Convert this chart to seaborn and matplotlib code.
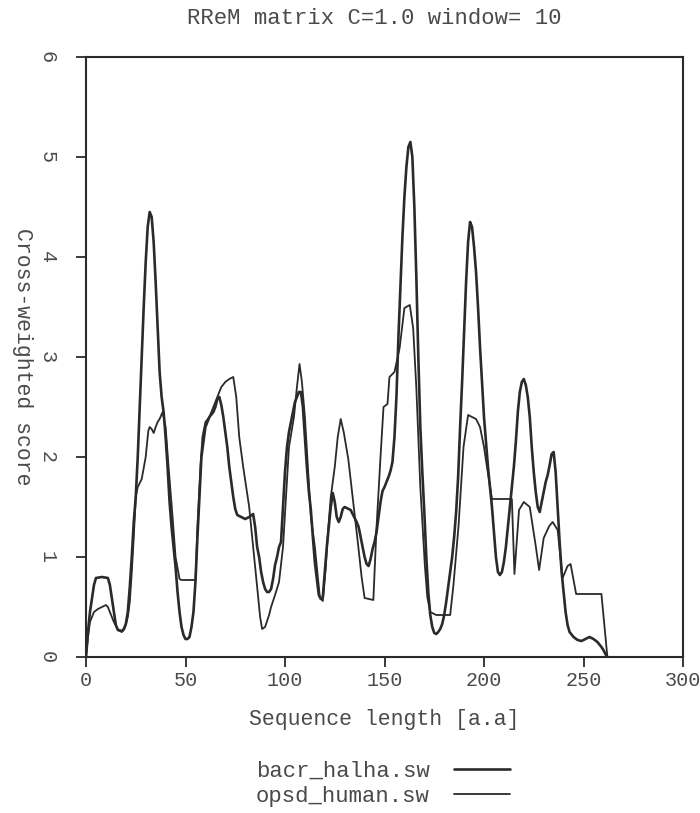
import numpy as np
import pandas as pd
import matplotlib
matplotlib.use("Agg")
import matplotlib.pyplot as plt
import seaborn as sns

# -------- data --------
bacr_x = [0, 1, 2, 4, 5, 8, 11, 12, 14, 15, 16, 18, 19, 20, 21, 22, 23, 24, 25, 26,
          27, 28, 29, 30, 31, 32, 33, 34, 35, 36, 37, 38, 39, 40, 41, 42, 43, 44, 45, 46,
          47, 48, 49, 50, 51, 52, 53, 54, 55, 56, 57, 58, 59, 60, 62, 64, 65, 66, 67, 68,
          69, 70, 71, 72, 73, 74, 75, 76, 78, 80, 82, 84, 85, 86, 87, 88, 89, 90, 91, 92,
          93, 94, 95, 96, 97, 98, 99, 100, 101, 102, 103, 104, 105, 106, 107, 108, 109, 110, 111, 112,
          113, 114, 115, 116, 117, 118, 119, 120, 121, 122, 123, 124, 125, 126, 127, 128, 129, 130, 131, 132,
          133, 134, 135, 136, 137, 138, 139, 140, 141, 142, 143, 144, 145, 146, 147, 148, 149, 150, 151, 152,
          153, 154, 155, 156, 157, 158, 159, 160, 161, 162, 163, 164, 165, 166, 167, 168, 169, 170, 171, 172,
          173, 174, 175, 176, 177, 178, 179, 180, 181, 182, 183, 184, 185, 186, 187, 188, 189, 190, 191, 192,
          193, 194, 195, 196, 197, 198, 199, 200, 201, 202, 203, 204, 205, 206, 207, 208, 209, 210, 211, 212,
          213, 214, 215, 216, 217, 218, 219, 220, 221, 222, 223, 224, 225, 226, 227, 228, 229, 230, 231, 232,
          233, 234, 235, 236, 237, 238, 239, 240, 241, 242, 243, 245, 247, 249, 251, 253, 255, 257, 259, 260,
          261, 262]
bacr_y = [0.0, 0.25, 0.45, 0.72, 0.79, 0.8, 0.79, 0.72, 0.45, 0.32, 0.27, 0.26, 0.28, 0.33, 0.45, 0.7, 1.0, 1.35, 1.6, 2.0,
          2.5, 3.0, 3.5, 3.95, 4.3, 4.45, 4.4, 4.15, 3.75, 3.3, 2.85, 2.6, 2.45, 2.2, 1.9, 1.55, 1.3, 1.1, 0.9, 0.65,
          0.45, 0.3, 0.22, 0.18, 0.18, 0.2, 0.3, 0.45, 0.75, 1.2, 1.6, 2.0, 2.15, 2.3, 2.4, 2.45, 2.5, 2.58, 2.6, 2.52,
          2.4, 2.25, 2.1, 1.9, 1.75, 1.6, 1.48, 1.42, 1.4, 1.38, 1.4, 1.43, 1.3, 1.1, 1.0, 0.85, 0.75, 0.68, 0.65, 0.65,
          0.68, 0.78, 0.92, 1.0, 1.1, 1.15, 1.5, 1.85, 2.1, 2.25, 2.35, 2.45, 2.55, 2.6, 2.65, 2.65, 2.5, 2.2, 1.9, 1.65,
          1.47, 1.2, 0.95, 0.78, 0.62, 0.58, 0.6, 0.85, 1.1, 1.3, 1.5, 1.64, 1.55, 1.4, 1.35, 1.4, 1.48, 1.5, 1.49, 1.48,
          1.47, 1.43, 1.39, 1.35, 1.3, 1.2, 1.1, 1.0, 0.93, 0.91, 0.98, 1.08, 1.15, 1.25, 1.4, 1.55, 1.66, 1.7, 1.75, 1.8,
          1.86, 1.95, 2.2, 2.6, 3.2, 3.7, 4.2, 4.6, 4.9, 5.1, 5.15, 5.0, 4.5, 3.8, 3.0, 2.3, 1.85, 1.45, 1.0, 0.65,
          0.42, 0.3, 0.24, 0.23, 0.25, 0.28, 0.33, 0.42, 0.55, 0.7, 0.85, 1.0, 1.2, 1.45, 1.8, 2.3, 2.75, 3.25, 3.75, 4.15,
          4.35, 4.3, 4.1, 3.85, 3.5, 3.1, 2.75, 2.4, 2.15, 1.9, 1.7, 1.5, 1.25, 1.0, 0.85, 0.82, 0.85, 0.95, 1.1, 1.3,
          1.5, 1.7, 1.9, 2.15, 2.45, 2.65, 2.75, 2.78, 2.72, 2.6, 2.4, 2.1, 1.85, 1.65, 1.5, 1.45, 1.55, 1.65, 1.75, 1.82,
          1.92, 2.03, 2.05, 1.85, 1.5, 1.15, 0.85, 0.65, 0.45, 0.32, 0.25, 0.2, 0.17, 0.16, 0.18, 0.2, 0.18, 0.15, 0.1, 0.07,
          0.03, 0.0]

opsd_x = [0, 1, 2, 4, 6, 8, 10, 11, 12, 14, 16, 17, 18, 19, 20, 21, 22, 23, 24, 25,
          26, 28, 30, 31.3, 32, 33, 34, 35, 36, 37, 38.5, 40, 41.5, 43.5, 45, 47, 48, 55, 56, 57.5,
          58.5, 60, 62, 64, 66, 68, 70, 72, 74, 75.5, 77, 79, 82, 84, 86, 87.5, 88.5, 90, 92, 93,
          95, 97, 99, 100.5, 102, 104.5, 106, 107.3, 108.5, 110, 111.5, 113, 115, 116.5, 117.5, 119, 120.5, 121.6, 123, 125,
          126.5, 128, 129.5, 131.8, 134, 136.8, 138.5, 140, 144.4, 146, 148, 149.5, 151.5, 152.5, 155, 157.6, 160, 162.7, 164.4, 166,
          168, 170.3, 171.5, 173, 176, 183, 184.6, 187.2, 189.7, 192, 194, 196, 198, 200, 201.5, 204, 214, 215.3, 217.6, 220,
          223, 226, 227.7, 230, 232.8, 234.5, 237, 239.5, 242, 243.5, 246.3, 259, 262]
opsd_y = [0.0, 0.2, 0.35, 0.45, 0.48, 0.5, 0.52, 0.5, 0.45, 0.35, 0.28, 0.26, 0.25, 0.27, 0.32, 0.4, 0.55, 0.85, 1.2, 1.6,
          1.7, 1.78, 2.0, 2.26, 2.3, 2.28, 2.24, 2.3, 2.35, 2.38, 2.45, 2.3, 1.9, 1.4, 1.0, 0.78, 0.77, 0.77, 1.3, 1.9,
          2.2, 2.35, 2.4, 2.5, 2.6, 2.7, 2.75, 2.78, 2.8, 2.6, 2.2, 1.9, 1.5, 1.1, 0.7, 0.4, 0.28, 0.3, 0.42, 0.5,
          0.62, 0.75, 1.1, 1.6, 2.1, 2.4, 2.7, 2.93, 2.75, 2.4, 1.9, 1.4, 1.1, 0.8, 0.6, 0.56, 0.9, 1.25, 1.6, 1.9,
          2.2, 2.38, 2.25, 1.98, 1.6, 1.11, 0.8, 0.59, 0.57, 1.3, 2.0, 2.5, 2.53, 2.8, 2.85, 3.09, 3.49, 3.52, 3.29, 2.69,
          1.7, 0.91, 0.6, 0.45, 0.42, 0.42, 0.71, 1.31, 2.1, 2.42, 2.4, 2.38, 2.3, 2.1, 1.9, 1.58, 1.58, 0.83, 1.47, 1.55,
          1.5, 1.11, 0.87, 1.19, 1.31, 1.35, 1.27, 0.79, 0.91, 0.93, 0.63, 0.63, 0.0]

labels = ["bacr_halha.sw", "opsd_human.sw"]
x_ticks = [0, 50, 100, 150, 200, 250, 300]
y_ticks = [0, 1, 2, 3, 4, 5, 6]

df = pd.concat([
    pd.DataFrame({"pos": bacr_x, "score": bacr_y, "seq": labels[0]}),
    pd.DataFrame({"pos": opsd_x, "score": opsd_y, "seq": labels[1]}),
])

# -------- style --------
sns.set_style("ticks")
plt.rcParams["font.family"] = ["Liberation Mono", "DejaVu Sans Mono"]
ink = "#2a2a2a"
txt = "#4a4a4a"

fig = plt.figure(figsize=(7.0, 8.13), dpi=100)
ax = fig.add_axes([86 / 700, 1 - 657 / 813, 597 / 700, 600 / 813])

sns.lineplot(data=df, x="pos", y="score", hue="seq", palette={labels[0]: ink, labels[1]: ink},
             estimator=None, sort=True, linewidth=1.5, legend=False, ax=ax)
for ln, lw in zip(ax.get_lines(), [1.9, 1.3]):
    ln.set_linewidth(lw)
    ln.set_solid_joinstyle("round")

ax.set_xlim(0, 300)
ax.set_ylim(0, 6)
ax.set_xticks(x_ticks)
ax.set_yticks(y_ticks)
ax.set_yticklabels([str(v) for v in y_ticks], rotation=-90, va="center")
ax.tick_params(axis="both", colors=ink, labelcolor=txt, labelsize=14.5, width=1.3, length=7)
ax.tick_params(axis="y", pad=14)
ax.tick_params(axis="x", pad=3)
for s in ax.spines.values():
    s.set_visible(True)
    s.set_color(ink)
    s.set_linewidth(1.5)

ax.set_xlabel("Sequence length [a.a]", fontsize=15.5, color=txt, labelpad=14)
ax.set_ylabel("Cross-weighted score", fontsize=15.5, color=txt, rotation=-90, va="center")
ax.yaxis.set_label_coords(-0.107, 0.5)

fig.text(374 / 700, 1 - 18 / 813, "RReM matrix C=1.0 window= 10", ha="center", va="center",
         fontsize=16, color=txt)

handles = ax.get_lines()[:2]
fig.legend(handles, labels, loc="center", bbox_to_anchor=(383 / 700, 1 - 784 / 813),
           markerfirst=False, frameon=False, handlelength=2.5, handletextpad=1.1,
           labelspacing=0.2, prop={"size": 16}, labelcolor=txt)

fig.savefig("out.png", dpi=100)
